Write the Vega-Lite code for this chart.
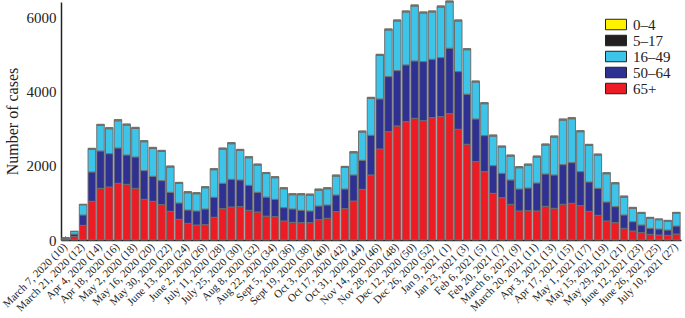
{
  "$schema": "https://vega.github.io/schema/vega-lite/v6.json",
  "width": 620,
  "height": 238,
  "autosize": {"type": "none"},
  "padding": {"left": 61, "top": 2, "right": 4, "bottom": 78},
  "background": "white",
  "config": {
    "view": {"stroke": null},
    "font": "Liberation Serif"
  },
  "datasets": {
    "groups": [
      {"key": "s65", "group": "65+", "rank": 1},
      {"key": "s50", "group": "50–64", "rank": 2},
      {"key": "s16", "group": "16–49", "rank": 3},
      {"key": "s5", "group": "5–17", "rank": 4},
      {"key": "s0", "group": "0–4", "rank": 5}
    ]
  },
  "data": {
    "values": [
      {"w": "March 7, 2020 (10)", "s65": 10, "s50": 25, "s16": 22, "s5": 2, "s0": 1},
      {"w": "_March 14, 2020 (11)", "s65": 90, "s50": 70, "s16": 68, "s5": 4, "s0": 3},
      {"w": "March 21, 2020 (12)", "s65": 396, "s50": 280, "s16": 275, "s5": 9, "s0": 5},
      {"w": "_March 28, 2020 (13)", "s65": 1045, "s50": 793, "s16": 615, "s5": 15, "s0": 10},
      {"w": "Apr 4, 2020 (14)", "s65": 1396, "s50": 1009, "s16": 690, "s5": 18, "s0": 13},
      {"w": "_Apr 11, 2020 (15)", "s65": 1432, "s50": 901, "s16": 673, "s5": 17, "s0": 13},
      {"w": "Apr 18, 2020 (16)", "s65": 1531, "s50": 955, "s16": 735, "s5": 18, "s0": 13},
      {"w": "_Apr 25, 2020 (17)", "s65": 1504, "s50": 793, "s16": 807, "s5": 18, "s0": 13},
      {"w": "May 2, 2020 (18)", "s65": 1396, "s50": 847, "s16": 771, "s5": 18, "s0": 13},
      {"w": "_May 9, 2020 (19)", "s65": 1099, "s50": 775, "s16": 781, "s5": 17, "s0": 13},
      {"w": "May 16, 2020 (20)", "s65": 1045, "s50": 675, "s16": 754, "s5": 18, "s0": 12},
      {"w": "_May 23, 2020 (21)", "s65": 955, "s50": 648, "s16": 790, "s5": 18, "s0": 12},
      {"w": "May 30, 2020 (22)", "s65": 775, "s50": 513, "s16": 682, "s5": 18, "s0": 12},
      {"w": "_June 6, 2020 (23)", "s65": 559, "s50": 441, "s16": 528, "s5": 18, "s0": 12},
      {"w": "June 13, 2020 (24)", "s65": 450, "s50": 361, "s16": 465, "s5": 18, "s0": 12},
      {"w": "_June 20, 2020 (25)", "s65": 405, "s50": 379, "s16": 465, "s5": 18, "s0": 12},
      {"w": "June 2, 2020 (26)", "s65": 414, "s50": 424, "s16": 573, "s5": 18, "s0": 12},
      {"w": "_July 4, 2020 (27)", "s65": 613, "s50": 540, "s16": 745, "s5": 18, "s0": 12},
      {"w": "July 11, 2020 (28)", "s65": 847, "s50": 685, "s16": 924, "s5": 18, "s0": 12},
      {"w": "_July 18, 2020 (29)", "s65": 892, "s50": 748, "s16": 961, "s5": 18, "s0": 12},
      {"w": "July 25, 2020 (30)", "s65": 901, "s50": 721, "s16": 798, "s5": 18, "s0": 12},
      {"w": "_Aug 1, 2020 (31)", "s65": 802, "s50": 675, "s16": 745, "s5": 18, "s0": 12},
      {"w": "Aug 8, 2020 (32)", "s65": 757, "s50": 531, "s16": 736, "s5": 18, "s0": 12},
      {"w": "_Aug 15, 2020 (33)", "s65": 645, "s50": 515, "s16": 635, "s5": 18, "s0": 12},
      {"w": "Aug 22, 2020 (34)", "s65": 631, "s50": 468, "s16": 583, "s5": 18, "s0": 12},
      {"w": "_Aug 29, 2020 (35)", "s65": 514, "s50": 360, "s16": 510, "s5": 18, "s0": 12},
      {"w": "Sept 5, 2020 (36)", "s65": 477, "s50": 361, "s16": 384, "s5": 18, "s0": 12},
      {"w": "_Sept 12, 2020 (37)", "s65": 468, "s50": 334, "s16": 420, "s5": 18, "s0": 12},
      {"w": "Sept 19, 2020 (38)", "s65": 468, "s50": 316, "s16": 429, "s5": 18, "s0": 12},
      {"w": "_Sept 26, 2020 (39)", "s65": 550, "s50": 369, "s16": 429, "s5": 18, "s0": 12},
      {"w": "Oct 3, 2020 (40)", "s65": 586, "s50": 360, "s16": 438, "s5": 18, "s0": 12},
      {"w": "_Oct 10, 2020 (41)", "s65": 766, "s50": 450, "s16": 511, "s5": 18, "s0": 12},
      {"w": "Oct 17, 2020 (42)", "s65": 847, "s50": 531, "s16": 583, "s5": 18, "s0": 12},
      {"w": "_Oct 24, 2020 (43)", "s65": 1054, "s50": 703, "s16": 600, "s5": 18, "s0": 12},
      {"w": "Oct 31, 2020 (44)", "s65": 1369, "s50": 784, "s16": 763, "s5": 18, "s0": 12},
      {"w": "_Nov 7, 2020 (45)", "s65": 1757, "s50": 1073, "s16": 996, "s5": 18, "s0": 12},
      {"w": "Nov 14, 2020 (46)", "s65": 2459, "s50": 1352, "s16": 1177, "s5": 18, "s0": 12},
      {"w": "_Nov 21, 2020 (47)", "s65": 2927, "s50": 1487, "s16": 1259, "s5": 18, "s0": 12},
      {"w": "Nov 28, 2020 (48)", "s65": 3081, "s50": 1495, "s16": 1340, "s5": 18, "s0": 12},
      {"w": "_Dec 5, 2020 (49)", "s65": 3198, "s50": 1532, "s16": 1429, "s5": 18, "s0": 12},
      {"w": "Dec 12, 2020 (50)", "s65": 3288, "s50": 1550, "s16": 1483, "s5": 18, "s0": 12},
      {"w": "_Dec 19, 2020 (51)", "s65": 3225, "s50": 1595, "s16": 1312, "s5": 18, "s0": 12},
      {"w": "Dec 26, 2020 (52)", "s65": 3306, "s50": 1577, "s16": 1276, "s5": 18, "s0": 12},
      {"w": "_Jan 2, 2021 (53)", "s65": 3333, "s50": 1595, "s16": 1366, "s5": 18, "s0": 12},
      {"w": "Jan 9, 2021 (1)", "s65": 3414, "s50": 1766, "s16": 1249, "s5": 18, "s0": 12},
      {"w": "_Jan 16, 2021 (2)", "s65": 2991, "s50": 1559, "s16": 1366, "s5": 18, "s0": 12},
      {"w": "Jan 23, 2021 (3)", "s65": 2586, "s50": 1354, "s16": 1200, "s5": 18, "s0": 12},
      {"w": "_Jan 30, 2021 (4)", "s65": 2117, "s50": 1153, "s16": 997, "s5": 18, "s0": 12},
      {"w": "Feb 6, 2021 (5)", "s65": 1847, "s50": 973, "s16": 862, "s5": 18, "s0": 12},
      {"w": "_Feb 13, 2021 (6)", "s65": 1261, "s50": 748, "s16": 799, "s5": 18, "s0": 12},
      {"w": "Feb 20, 2021 (7)", "s65": 1144, "s50": 658, "s16": 709, "s5": 18, "s0": 12},
      {"w": "_Feb 27, 2021 (8)", "s65": 964, "s50": 658, "s16": 645, "s5": 18, "s0": 12},
      {"w": "March 6, 2021 (9)", "s65": 784, "s50": 594, "s16": 574, "s5": 18, "s0": 12},
      {"w": "_March 13, 2021 (10)", "s65": 793, "s50": 612, "s16": 619, "s5": 18, "s0": 12},
      {"w": "March 20, 2021 (11)", "s65": 784, "s50": 757, "s16": 699, "s5": 18, "s0": 12},
      {"w": "_March 27, 2021 (12)", "s65": 910, "s50": 874, "s16": 781, "s5": 18, "s0": 12},
      {"w": "Apr 3, 2021 (13)", "s65": 856, "s50": 901, "s16": 1024, "s5": 18, "s0": 12},
      {"w": "_Apr 10, 2021 (14)", "s65": 964, "s50": 1072, "s16": 1204, "s5": 18, "s0": 12},
      {"w": "Apr 17, 2021 (15)", "s65": 991, "s50": 1099, "s16": 1186, "s5": 18, "s0": 12},
      {"w": "_Apr 24, 2021 (16)", "s65": 928, "s50": 919, "s16": 1078, "s5": 18, "s0": 12},
      {"w": "May 1, 2021 (17)", "s65": 775, "s50": 793, "s16": 988, "s5": 18, "s0": 12},
      {"w": "_May 8, 2021 (18)", "s65": 667, "s50": 729, "s16": 898, "s5": 18, "s0": 12},
      {"w": "May 15, 2021 (19)", "s65": 514, "s50": 513, "s16": 763, "s5": 18, "s0": 12},
      {"w": "_May 22, 2021 (20)", "s65": 468, "s50": 433, "s16": 619, "s5": 18, "s0": 12},
      {"w": "May 29, 2021 (21)", "s65": 315, "s50": 361, "s16": 483, "s5": 18, "s0": 12},
      {"w": "_June 5, 2021 (22)", "s65": 243, "s50": 252, "s16": 363, "s5": 15, "s0": 10},
      {"w": "June 12, 2021 (23)", "s65": 198, "s50": 207, "s16": 318, "s5": 15, "s0": 10},
      {"w": "_June 19, 2021 (24)", "s65": 153, "s50": 162, "s16": 278, "s5": 12, "s0": 8},
      {"w": "June 26, 2021 (25)", "s65": 135, "s50": 162, "s16": 251, "s5": 12, "s0": 8},
      {"w": "_July 3, 2021 (26)", "s65": 126, "s50": 144, "s16": 242, "s5": 12, "s0": 8},
      {"w": "July 10, 2021 (27)", "s65": 162, "s50": 216, "s16": 350, "s5": 12, "s0": 8}
    ]
  },
  "transform": [
    {"fold": ["s65", "s50", "s16", "s5", "s0"], "as": ["key", "cases"]},
    {"lookup": "key", "from": {"data": {"name": "groups"}, "key": "key", "fields": ["group", "rank"]}}
  ],
  "mark": {"type": "bar", "stroke": "#6e6e6e", "strokeWidth": 1},
  "encoding": {
    "x": {
      "field": "w",
      "type": "nominal",
      "sort": null,
      "scale": {"paddingInner": 0.14, "paddingOuter": 0.1},
      "axis": {
        "title": null,
        "labelAngle": -45,
        "labelAlign": "right",
        "labelBaseline": "middle",
        "labelFont": "Liberation Serif",
        "labelFontSize": 11,
        "labelColor": "#222",
        "labelPadding": 9,
        "labelExpr": "slice(datum.value, 0, 1) == '_' ? '' : datum.value",
        "labelOverlap": false,
        "ticks": true,
        "tickSize": -4,
        "tickColor": "#222",
        "domainColor": "#222",
        "domainWidth": 1.5,
        "grid": false
      }
    },
    "y": {
      "field": "cases",
      "type": "quantitative",
      "stack": "zero",
      "scale": {"domain": [0, 6430], "nice": false},
      "axis": {
        "title": "Number of cases",
        "titleFont": "Liberation Serif",
        "titleFontSize": 16,
        "titleFontWeight": "normal",
        "titleColor": "#222",
        "titlePadding": 6,
        "values": [0, 2000, 4000, 6000],
        "format": "d",
        "labelFont": "Liberation Serif",
        "labelFontSize": 15,
        "labelColor": "#222",
        "labelPadding": 5,
        "ticks": false,
        "domainColor": "#222",
        "domainWidth": 1.5,
        "grid": false
      }
    },
    "color": {
      "field": "group",
      "type": "nominal",
      "scale": {
        "domain": ["0–4", "5–17", "16–49", "50–64", "65+"],
        "range": ["#fff200", "#231f20", "#3cc5e9", "#2e3192", "#ed1c24"]
      },
      "legend": {
        "title": null,
        "orient": "none",
        "legendX": 544,
        "legendY": 15,
        "padding": 0,
        "symbolType": "M-1,-0.5H1V0.5H-1Z",
        "symbolSize": 441,
        "clipHeight": 15,
        "symbolStrokeColor": "#222",
        "symbolStrokeWidth": 1,
        "symbolOpacity": 1,
        "labelFont": "Liberation Serif",
        "labelFontSize": 15,
        "labelColor": "#222",
        "labelOffset": 6,
        "rowPadding": 0
      }
    },
    "order": {"field": "rank", "type": "quantitative", "sort": "ascending"}
  }
}
